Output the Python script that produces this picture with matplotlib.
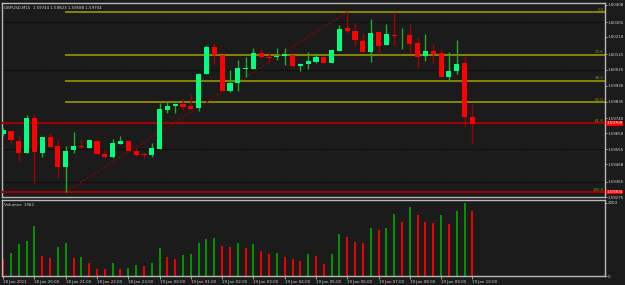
import numpy as np
import matplotlib
matplotlib.use('Agg')
import matplotlib.pyplot as plt
import matplotlib.transforms as mtransforms
from matplotlib import font_manager

# GBPUSD M15, 18 Jan 19:00 .. 19 Jan 10:00
opens = [1.59646, 1.59664, 1.59605, 1.59534, 1.59740, 1.59534, 1.59628, 1.59575, 1.59452, 1.59552,
         1.59575, 1.59564, 1.59605, 1.59528, 1.59510, 1.59587, 1.59605, 1.59546, 1.59528, 1.59522,
         1.59558, 1.59787, 1.59811, 1.59822, 1.59811, 1.59799, 1.59999, 1.60158, 1.60111, 1.59899,
         1.59946, 1.60029, 1.60029, 1.60123, 1.60099, 1.60099, 1.60105, 1.60111, 1.60046, 1.60058,
         1.60070, 1.60099, 1.60064, 1.60135, 1.60270, 1.60253, 1.60194, 1.60129, 1.60247, 1.60170,
         1.60229, 1.60226, 1.60229, 1.60182, 1.60105, 1.60135, 1.60123, 1.59982, 1.60017, 1.60064,
         1.59744]
highs = [1.59681, 1.59664, 1.59640, 1.59758, 1.59764, 1.59628, 1.59652, 1.59611, 1.59575, 1.59658,
         1.59617, 1.59611, 1.59611, 1.59558, 1.59617, 1.59634, 1.59605, 1.59564, 1.59540, 1.59593,
         1.59828, 1.59834, 1.59828, 1.59852, 1.59881, 1.60005, 1.60170, 1.60176, 1.60111, 1.60023,
         1.60082, 1.60099, 1.60152, 1.60147, 1.60129, 1.60152, 1.60152, 1.60111, 1.60064, 1.60129,
         1.60123, 1.60099, 1.60147, 1.60288, 1.60364, 1.60300, 1.60241, 1.60323, 1.60247, 1.60294,
         1.60364, 1.60270, 1.60294, 1.60211, 1.60235, 1.60176, 1.60147, 1.60129, 1.60199, 1.60105,
         1.59823]
lows = [1.59634, 1.59593, 1.59489, 1.59534, 1.59357, 1.59510, 1.59569, 1.59387, 1.59304, 1.59534,
        1.59564, 1.59564, 1.59528, 1.59505, 1.59505, 1.59587, 1.59546, 1.59516, 1.59505, 1.59510,
        1.59558, 1.59769, 1.59769, 1.59787, 1.59793, 1.59781, 1.59999, 1.60058, 1.59899, 1.59893,
        1.59899, 1.59982, 1.60029, 1.60093, 1.60064, 1.60082, 1.60052, 1.60035, 1.60017, 1.60029,
        1.60064, 1.60064, 1.60064, 1.60135, 1.60241, 1.60164, 1.60129, 1.60070, 1.60117, 1.60170,
        1.60164, 1.60147, 1.60123, 1.60035, 1.60076, 1.60064, 1.59982, 1.59958, 1.59999, 1.59687,
        1.59588]
closes = [1.59670, 1.59611, 1.59534, 1.59740, 1.59540, 1.59628, 1.59569, 1.59452, 1.59546, 1.59575,
          1.59569, 1.59611, 1.59528, 1.59510, 1.59593, 1.59605, 1.59546, 1.59522, 1.59522, 1.59564,
          1.59793, 1.59811, 1.59822, 1.59805, 1.59793, 1.59999, 1.60158, 1.60111, 1.59899, 1.59946,
          1.60035, 1.60035, 1.60123, 1.60099, 1.60096, 1.60105, 1.60117, 1.60046, 1.60058, 1.60076,
          1.60099, 1.60064, 1.60141, 1.60264, 1.60253, 1.60199, 1.60129, 1.60241, 1.60164, 1.60235,
          1.60223, 1.60229, 1.60176, 1.60099, 1.60135, 1.60117, 1.59982, 1.60017, 1.60058, 1.59746,
          1.59704]
volumes = [458, 640, 878, 960, 1381, 549, 503, 796, 915, 503,
           521, 366, 201, 183, 357, 192, 220, 293, 275, 366,
           768, 531, 467, 567, 613, 915, 1015, 1043, 832, 796,
           905, 778, 878, 695, 613, 631, 531, 458, 421, 604,
           549, 338, 604, 1152, 1070, 942, 915, 1317, 1271, 1317,
           1692, 1482, 1893, 1674, 1482, 1454, 1665, 1427, 1784, 2003,
           1790]
time_labels = ['18 Jan 2011', '18 Jan 20:00', '18 Jan 21:00', '18 Jan 22:00', '18 Jan 23:00',
               '19 Jan 00:00', '19 Jan 01:00', '19 Jan 02:00', '19 Jan 03:00', '19 Jan 04:00',
               '19 Jan 05:00', '19 Jan 06:00', '19 Jan 07:00', '19 Jan 08:00', '19 Jan 09:00',
               '19 Jan 10:00']
price_ticks = [1.60408, 1.60305, 1.60218, 1.60115, 1.60025, 1.59930, 1.59835,
               1.59740, 1.59650, 1.59555, 1.59468, 1.59365, 1.59275]
grid_prices = [1.60305, 1.60025, 1.59555, 1.59365]
fib_levels = [0.0, 23.6, 38.2, 50.0, 61.8, 100.0]
fib_high = 1.60364
fib_low = 1.59304
fib_high_bar = 44
fib_low_bar = 8

# narrow font if there is one
names = {f.name for f in font_manager.fontManager.ttflist}
narrow = 'Liberation Sans Narrow' if 'Liberation Sans Narrow' in names else 'DejaVu Sans'
plt.rcParams['font.family'] = [narrow, 'DejaVu Sans']
FS = 3.4 if narrow != 'DejaVu Sans' else 2.9

BG = '#1b1b1b'
TXT = '#d2d2d2'
BORDER = '#b8b8b8'
BULL = '#00ff80'
BULL_WICK = '#1fae1f'
BEAR = '#ff0000'
BEAR_WICK = '#a30000'
FIB = '#8f8f00'
LINE_RED = '#a00000'

W, H = 625, 285
fig = plt.figure(figsize=(W / 100, H / 100), dpi=100, facecolor=BG)
ax = fig.add_axes([2 / W, 1 - 197 / H, 603 / W, 194 / H], facecolor=BG)
axv = fig.add_axes([2 / W, 1 - 276 / H, 603 / W, 76 / H], facecolor=BG)

n = len(closes)
x = np.arange(n)
o = np.array(opens); c = np.array(closes)
hi = np.array(highs); lo = np.array(lows)
up = c >= o
XMAX = -0.15 + 603 / 7.82

# grid
for gp in grid_prices:
    ax.axhline(gp, color='#050505', lw=0.8, ls=(0, (1, 1)), zorder=1)

tr = mtransforms.blended_transform_factory(ax.transAxes, ax.transData)

# fibonacci
for lv in fib_levels:
    price = fib_high - lv / 100 * (fib_high - fib_low)
    ax.hlines(price, fib_low_bar - 0.1, 80, color=FIB, lw=1.3, zorder=2)
    ax.text(0.998, price + 0.00002, f'{lv:.1f}', transform=tr,
            ha='right', va='bottom', fontsize=FS, color=FIB, zorder=5)
ax.plot([fib_low_bar, fib_high_bar], [fib_low, fib_high], color='#8b0000', lw=1.0, ls=(0, (1.5, 1.5)), zorder=2)

# horizontal red lines
red_lines = [fib_high - 0.618 * (fib_high - fib_low), fib_low]
for rp in red_lines:
    ax.axhline(rp, color=LINE_RED, lw=1.4, zorder=3)

# candles
ax.vlines(x[up], lo[up], hi[up], color=BULL_WICK, lw=1.0, zorder=4)
ax.vlines(x[~up], lo[~up], hi[~up], color=BEAR_WICK, lw=1.0, zorder=4)
body_h = np.maximum(np.abs(c - o), 0.00005)
ax.bar(x, body_h, bottom=np.minimum(o, c), width=0.66,
       color=np.where(up, BULL, BEAR), linewidth=0, zorder=5)

ax.set_xlim(-0.15, XMAX)
ax.set_ylim(1.59275, 1.60417)
ax.yaxis.tick_right()
ax.set_yticks(price_ticks)
ax.set_yticklabels([f'{p:.5f}' for p in price_ticks])
ax.tick_params(axis='y', colors=BORDER, labelcolor=TXT, labelsize=FS, length=1.5, width=0.6, pad=0.6)
ax.set_xticks([])

for rp in red_lines:
    ax.text(1.0022, rp, f'{rp:.5f}', transform=tr, ha='left', va='center', fontsize=FS, color='white',
            bbox=dict(boxstyle='square,pad=0.1', fc='#ff0000', ec='none'), clip_on=False, zorder=6)

ax.text(0.004, 0.985, 'GBPUSD,M15  1.59744 1.59823 1.59588 1.59704', transform=ax.transAxes,
        ha='left', va='top', fontsize=FS, color=TXT)

# volumes
vcol = [BEAR] + ['#00a000' if volumes[i] > volumes[i - 1] else BEAR for i in range(1, n)]
axv.vlines(x, 0, volumes, colors=vcol, lw=1.3)
axv.set_xlim(-0.15, XMAX)
axv.set_ylim(0, 2085)
axv.yaxis.tick_right()
axv.set_yticks([0, 2003])
axv.set_yticklabels(['0', '2003'])
axv.tick_params(axis='y', colors=BORDER, labelcolor=TXT, labelsize=FS, length=1.5, width=0.6, pad=0.6)
axv.set_xticks(x[::4])
axv.set_xticklabels(time_labels, ha='left')
axv.tick_params(axis='x', colors=BORDER, labelcolor=TXT, labelsize=FS, length=2, width=0.6, pad=0.8)
axv.text(0.004, 0.96, 'Volumes: 1962', transform=axv.transAxes, ha='left', va='top', fontsize=FS, color=TXT)

for a in (ax, axv):
    for s in a.spines.values():
        s.set_color(BORDER)
        s.set_linewidth(1.0)

fig.savefig('out.png', dpi=100, facecolor=BG)
